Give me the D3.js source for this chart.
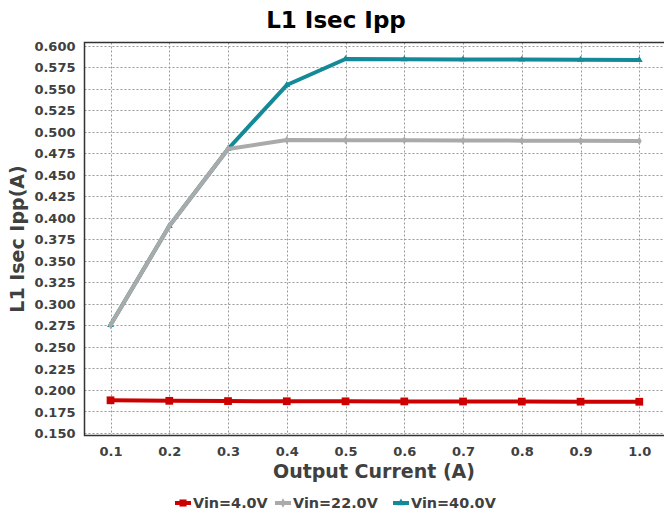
<!DOCTYPE html>
<html>
<head>
<meta charset="utf-8">
<script src="https://cdn.jsdelivr.net/npm/d3@7/dist/d3.min.js"></script>
<style>
  body { margin: 0; background: #fff; }
  svg text { font-family: "DejaVu Sans", sans-serif; font-weight: bold; }
</style>
</head>
<body>
<svg id="chart" width="664" height="516"></svg>
<script>
// data
const currents = [0.1, 0.2, 0.3, 0.4, 0.5, 0.6, 0.7, 0.8, 0.9, 1.0];
const vin4 = [0.1880, 0.1874, 0.1871, 0.1869, 0.1868, 0.1867, 0.1866, 0.1865, 0.1864, 0.1863];
const vin22 = [0.2755, 0.3905, 0.4800, 0.4904, 0.4902, 0.4900, 0.4898, 0.4897, 0.4895, 0.4893];
const vin40 = [0.2755, 0.3905, 0.4800, 0.5543, 0.5845, 0.5843, 0.5841, 0.5839, 0.5837, 0.5834];
const yTicks = [0.150, 0.175, 0.200, 0.225, 0.250, 0.275, 0.300, 0.325, 0.350, 0.375, 0.400,
  0.425, 0.450, 0.475, 0.500, 0.525, 0.550, 0.575, 0.600];
const xTicks = [0.1, 0.2, 0.3, 0.4, 0.5, 0.6, 0.7, 0.8, 0.9, 1.0];

const series = [
  { name: 'Vin=4.0V', values: vin4, color: '#cc0000', marker: d3.symbolSquare, size: 60 },
  { name: 'Vin=22.0V', values: vin22, color: '#aaaaaa', marker: d3.symbolDiamond, size: 20 },
  { name: 'Vin=40.0V', values: vin40, color: '#148a98', marker: d3.symbolTriangle, size: 20 },
];

const svg = d3.select('#chart');
const plot = { left: 84.5, top: 42.5, right: 672, bottom: 435.5 };

// x runs on past the visible right edge like the original
const x = d3.scaleLinear().domain([0.0557, 1.0]).range([plot.left, 639.3]);
const y = d3.scaleLinear().domain([0.150, 0.600]).range([433, 45.7]);

// grid
const grid = svg.append('g').attr('stroke', '#999').attr('stroke-width', 1)
  .attr('stroke-dasharray', '2,2');
grid.selectAll('line.h').data(yTicks).enter().append('line')
  .attr('x1', plot.left).attr('x2', plot.right)
  .attr('y1', d => Math.round(y(d)) + 0.5).attr('y2', d => Math.round(y(d)) + 0.5);
grid.selectAll('line.v').data(xTicks).enter().append('line')
  .attr('y1', plot.top).attr('y2', plot.bottom)
  .attr('x1', d => Math.round(x(d)) + 0.5).attr('x2', d => Math.round(x(d)) + 0.5);

// frame (left, top, bottom)
svg.append('path')
  .attr('d', `M${plot.right},${plot.top}H${plot.left}V${plot.bottom}H${plot.right}`)
  .attr('fill', 'none').attr('stroke', '#333').attr('stroke-width', 1.5);

// axes
const yAxis = svg.append('g').attr('transform', `translate(${plot.left - 6},0)`)
  .call(d3.axisLeft(y).tickValues(yTicks).tickFormat(d3.format('.3f')).tickSize(0));
const xAxis = svg.append('g').attr('transform', `translate(0,${plot.bottom + 6})`)
  .call(d3.axisBottom(x).tickValues(xTicks).tickFormat(d3.format('.1f')).tickSize(0));
[yAxis, xAxis].forEach(a => {
  a.select('.domain').remove();
  a.selectAll('text').attr('fill', '#404040').style('font-size', '13px')
    .style('font-family', '"DejaVu Sans", sans-serif').style('font-weight', 'bold');
});
yAxis.selectAll('text').attr('dy', '0.35em');
xAxis.selectAll('text').attr('dy', '0.9em');

// lines, drawn so that gray sits over teal as in the picture
const line = d3.line().x((d, i) => x(currents[i])).y(d => y(d));
const order = [2, 1, 0];
order.forEach(k => {
  const s = series[k];
  svg.append('path').datum(s.values)
    .attr('d', line).attr('fill', 'none')
    .attr('stroke', s.color).attr('stroke-width', 4).attr('stroke-linejoin', 'round');
  svg.selectAll(null).data(s.values).enter().append('path')
    .attr('d', d3.symbol().type(s.marker).size(s.size))
    .attr('transform', (d, i) => `translate(${x(currents[i])},${y(d)})`)
    .attr('fill', s.color);
});

// titles
svg.append('text').attr('x', 336).attr('y', 28).attr('text-anchor', 'middle')
  .style('font-size', '23px').attr('fill', '#000').text('L1 Isec Ipp');
svg.append('text').attr('x', 374).attr('y', 478).attr('text-anchor', 'middle')
  .style('font-size', '19px').attr('fill', '#404040').text('Output Current (A)');
svg.append('text').attr('transform', 'translate(24,239) rotate(-90)').attr('text-anchor', 'middle')
  .style('font-size', '19px').attr('fill', '#404040').text('L1 Isec Ipp(A)');

// legend
const legendX = [175, 275, 393];
const legend = svg.append('g');
series.forEach((s, i) => {
  const g = legend.append('g').attr('transform', `translate(${legendX[i]},503)`);
  g.append('line').attr('x1', 0).attr('x2', 16).attr('y1', 0).attr('y2', 0)
    .attr('stroke', s.color).attr('stroke-width', 4);
  g.append('path').attr('d', d3.symbol().type(s.marker).size(i === 0 ? 50 : 25))
    .attr('transform', 'translate(8,0)').attr('fill', s.color);
  g.append('text').attr('x', 18).attr('y', 0).attr('dy', '0.36em')
    .style('font-size', '14.4px').attr('fill', '#404040').text(s.name);
});
</script>
</body>
</html>
